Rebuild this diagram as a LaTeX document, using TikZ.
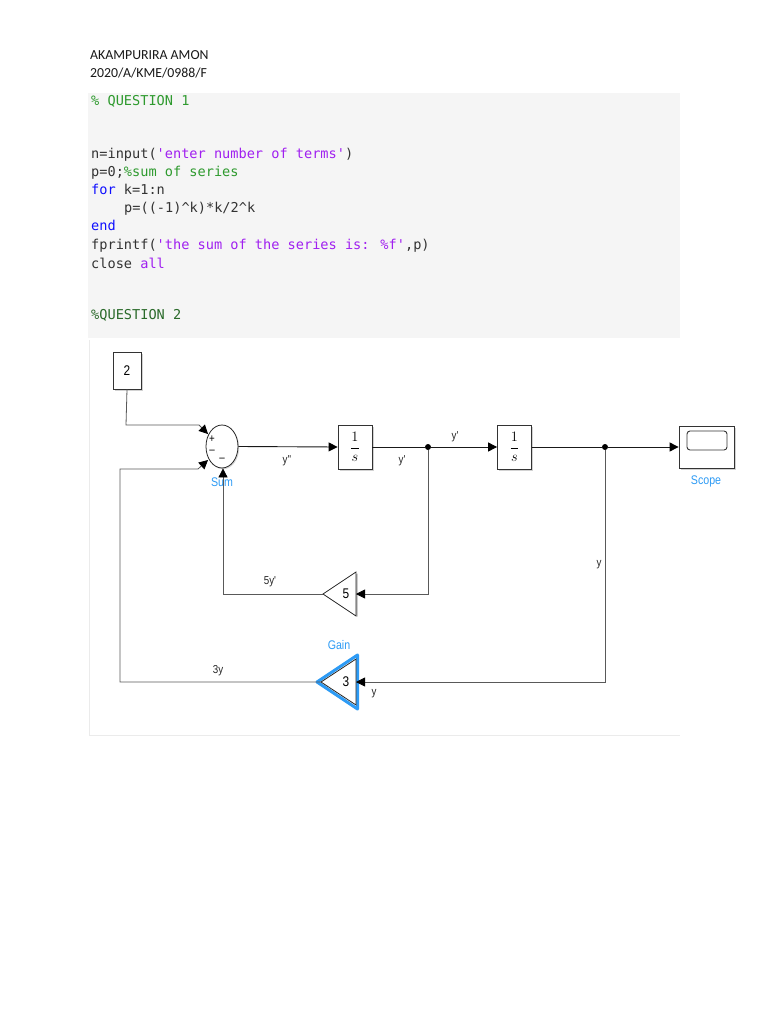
\documentclass[tikz,border=0pt]{standalone}
\usepackage{fontspec}
\setmainfont{Carlito}
\newfontfamily\codefont{DejaVu Sans Mono}
\newfontfamily\lblfont[FakeStretch=0.85]{Liberation Sans}
\usetikzlibrary{arrows.meta,shapes.geometric,shadows}
\definecolor{cgray}{HTML}{F5F5F5}
\definecolor{ctext}{HTML}{333333}
\definecolor{cgreen}{HTML}{2E9A2E}
\definecolor{cdgreen}{HTML}{2A6A2A}
\definecolor{cblue}{HTML}{1010FF}
\definecolor{cpurple}{HTML}{A020F0}
\definecolor{slblue}{RGB}{45,155,245}
\tikzset{
  hdr/.style={anchor=base west,inner sep=0pt,font=\fontsize{13.8}{16}\selectfont,text=black!90},
  code/.style={anchor=base west,inner sep=0pt,font=\codefont\fontsize{13.6}{16}\selectfont,text=ctext},
  wire/.style={draw=black!65,line width=0.8pt},
  mainwire/.style={draw=black!90,line width=0.9pt},
  sig/.style={-{Triangle[length=9pt,width=9pt,color=black]}},
  blk/.style={draw=black!80,fill=white,line width=0.8pt,inner sep=0pt,
    drop shadow={shadow xshift=1.5pt,shadow yshift=-1.5pt,fill=black!35}},
  lbl/.style={inner sep=0pt,font=\lblfont\fontsize{11.5}{13}\selectfont,text=black!85},
  blbl/.style={inner sep=0pt,font=\lblfont\fontsize{12.5}{14}\selectfont,text=slblue},
  num/.style={inner sep=0pt,font=\lblfont\fontsize{14}{16}\selectfont},
  sgn/.style={inner sep=0pt,font=\lblfont\fontsize{11.5}{12}\selectfont},
  dot/.style={circle,fill=black,inner sep=0pt,minimum size=6pt},
}
\begin{document}
\begin{tikzpicture}[x=1pt,y=-1pt]
\useasboundingbox[fill=white] (0,0) rectangle (768,1024);
% header
\node[hdr] (h1) at (90,60) {AKAMPURIRA AMON};
\node[hdr] (h2) at (90,78) {2020/A/KME/0988/F};
% code panel
\fill[cgray] (88,93) rectangle (680,338);
\node[code,text=cgreen] (c0) at (91,106) {\% QUESTION 1};
\node[code] (c1) at (91,159) {n=input(\textcolor{cpurple}{'enter number of terms'})};
\node[code] (c2) at (91,177) {p=0;\textcolor{cgreen}{\%sum of series}};
\node[code] (c3) at (91,195) {\textcolor{cblue}{for} k=1:n};
\node[code] (c4) at (124,213) {p=((-1)\textasciicircum k)*k/2\textasciicircum k};
\node[code,text=cblue] (c5) at (91,231) {end};
\node[code] (c6) at (91,249) {fprintf(\textcolor{cpurple}{'the sum of the series is: \%f'},p)};
\node[code] (c7) at (91,268) {close \textcolor{cpurple}{all}};
\node[code,text=cdgreen] (c8) at (91,319) {\%QUESTION 2};
% diagram frame
\draw[black!8,line width=0.8pt] (89,340) -- (89,735) -- (680,735);
% blocks
\node[blk,minimum width=28pt,minimum height=37pt,font=\lblfont\fontsize{14}{16}\selectfont] (const) at (127,370.5) {2};
\node[ellipse,draw=black!85,fill=white,line width=0.8pt,minimum width=32pt,minimum height=43pt,inner sep=0pt,
  drop shadow={shadow xshift=1.2pt,shadow yshift=-1.2pt,fill=black!30}] (sum) at (222,446.5) {};
\node[sgn] (sp) at (212,439) {+};
\node[sgn] (sm1) at (212,452) {–};
\node[sgn] (sm2) at (222,460) {–};
\node[blk,minimum width=34pt,minimum height=44pt] (int1) at (355,447) {\fontsize{15}{17}\selectfont$\displaystyle\frac{1}{s}$};
\node[blk,minimum width=34pt,minimum height=44pt] (int2) at (514.5,447) {\fontsize{15}{17}\selectfont$\displaystyle\frac{1}{s}$};
\node[blk,minimum width=55pt,minimum height=42pt] (scope) at (706.5,447) {};
\node[draw=black!80,rounded corners=3pt,line width=0.9pt,minimum width=40pt,minimum height=19pt,inner sep=0pt] (screen) at (707,440.5) {};
\node[blbl] (suml) at (222,482) {Sum};
\node[blbl] (scopel) at (706,481) {Scope};
% gains
\coordinate (g5tip) at (323,594);
\coordinate (g5in) at (356,594);
\fill[black!30] (324.5,595.5) -- (357.5,573.5) -- (357.5,616.5) -- cycle;
\draw[black!85,fill=white,line width=0.8pt] (g5tip) -- (356,572) -- (356,616) -- cycle;
\node[num] (g5) at (346,594) {5};
\coordinate (g3tip) at (321,682);
\coordinate (g3in) at (356,682);
\draw[slblue,line width=3pt,line join=round] (317,682) -- (357.5,655) -- (357.5,709) -- cycle;
\draw[black!85,fill=white,line width=0.8pt] (g3tip) -- (356,659) -- (356,705) -- cycle;
\node[num] (g3) at (346,682) {3};
\node[blbl] (gainl) at (339,645) {Gain};
% branch points
\node[dot] (b1) at (428,447) {};
\node[dot] (b2) at (605,447) {};
% connectors
\coordinate (k1) at (126,425);
\coordinate (k1b) at (199,425);
\coordinate (s1) at (208,434);
\draw[wire,sig] (const.south) -- (k1) -- (k1b) -- (s1);
\coordinate (k2) at (120,682);
\coordinate (k3) at (120,469);
\coordinate (k3b) at (198,469);
\coordinate (s2) at (208,460);
\draw[wire,sig] (g3tip) -- (k2) -- (k3) -- (k3b) -- (s2);
\coordinate (k4) at (223,594);
\draw[wire,sig] (g5tip) -- (k4) -- (sum.south -| k4);
\draw[mainwire,sig] (sum.east) -- (int1.west);
\draw[mainwire] (int1.east) -- (b1);
\draw[mainwire,sig] (b1) -- (int2.west);
\draw[mainwire] (int2.east) -- (b2);
\draw[mainwire,sig] (b2) -- (scope.west);
\draw[wire,sig] (b1) |- (g5in);
\draw[wire,sig] (b2) |- (g3in);
% labels
\node[lbl] (l1) at (287,461) {y''};
\node[lbl] (l2) at (402,461) {y'};
\node[lbl] (l3) at (455,437) {y'};
\node[lbl] (l4) at (270,582) {5y'};
\node[lbl] (l5) at (599,565) {y};
\node[lbl] (l6) at (218,671) {3y};
\node[lbl] (l7) at (374,694) {y};
\end{tikzpicture}
\end{document}
